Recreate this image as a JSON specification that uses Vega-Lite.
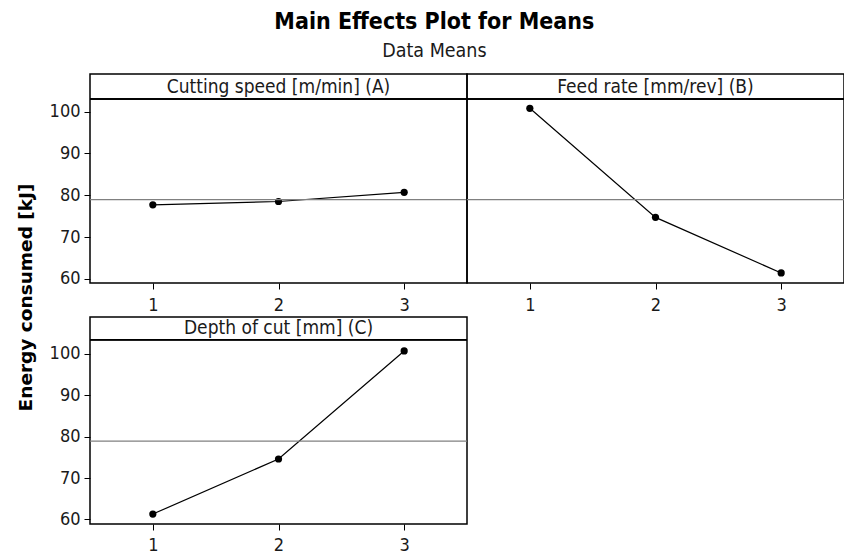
{
  "$schema": "https://vega.github.io/schema/vega-lite/v6.json",
  "padding": {"left": 15, "top": 10, "right": 0, "bottom": 0},
  "background": "white",
  "title": {
    "text": "Main Effects Plot for Means",
    "subtitle": "Data Means",
    "anchor": "middle",
    "dx": 4,
    "font": "DejaVu Sans Condensed",
    "fontSize": 23,
    "fontWeight": "bold",
    "color": "black",
    "subtitleFont": "DejaVu Sans Condensed",
    "subtitleFontSize": 19.5,
    "subtitleColor": "#1a1a1a",
    "subtitlePadding": 8,
    "offset": 13
  },
  "datasets": {
    "means": [
      {"factor": "Cutting speed [m/min] (A)", "level": 1, "energy": 77.7},
      {"factor": "Cutting speed [m/min] (A)", "level": 2, "energy": 78.5},
      {"factor": "Cutting speed [m/min] (A)", "level": 3, "energy": 80.7},
      {"factor": "Feed rate [mm/rev] (B)", "level": 1, "energy": 100.8},
      {"factor": "Feed rate [mm/rev] (B)", "level": 2, "energy": 74.7},
      {"factor": "Feed rate [mm/rev] (B)", "level": 3, "energy": 61.4},
      {"factor": "Depth of cut [mm] (C)", "level": 1, "energy": 61.3},
      {"factor": "Depth of cut [mm] (C)", "level": 2, "energy": 74.6},
      {"factor": "Depth of cut [mm] (C)", "level": 3, "energy": 100.7}
    ]
  },
  "columns": 2,
  "spacing": {"row": 34, "column": 0},
  "bounds": "flush",
  "concat": [
    {
      "width": 377, "height": 209,
      "data": {"name": "means"},
      "transform": [
        {"joinaggregate": [{"op": "mean", "field": "energy", "as": "grand"}]},
        {"filter": "datum.factor === 'Cutting speed [m/min] (A)'"}
      ],
      "layer": [
        {"mark": {"type": "line", "color": "black", "strokeWidth": 1.2, "point": {"filled": true, "color": "black", "size": 52, "opacity": 1}},
         "encoding": {
           "x": {"field": "level", "type": "quantitative", "scale": {"domain": [0.5, 3.5], "nice": false, "zero": false}, "axis": {"values": [1, 2, 3], "format": "d", "title": null, "labelPadding": 7}},
           "y": {"field": "energy", "type": "quantitative", "scale": {"domain": [59, 109], "nice": false, "zero": false},
                 "axis": {"values": [60, 70, 80, 90, 100], "title": "Energy consumed [kJ]", "titleX": -65, "titleY": 223, "titleAngle": -90, "titleAlign": "center", "titleBaseline": "middle", "titleFont": "DejaVu Sans", "titleFontSize": 18.5}}
         }},
        {"mark": {"type": "rule", "color": "#808080", "strokeWidth": 1.3},
         "encoding": {"y": {"field": "grand", "aggregate": "mean", "type": "quantitative", "title": "Energy consumed [kJ]"}}},
        {"mark": {"type": "rule", "color": "black", "strokeWidth": 1.5},
         "encoding": {"y": {"datum": 103, "type": "quantitative", "title": "Energy consumed [kJ]"}}},
        {"transform": [{"filter": "datum.level === 1"}],
         "mark": {"type": "text", "font": "DejaVu Sans Condensed", "fontSize": 19, "color": "#1a1a1a", "baseline": "middle", "align": "center"},
         "encoding": {"x": {"datum": 2, "type": "quantitative", "title": null}, "y": {"datum": 106, "type": "quantitative", "title": "Energy consumed [kJ]"}, "text": {"field": "factor"}}}
      ]
    },
    {
      "width": 377, "height": 209,
      "data": {"name": "means"},
      "transform": [
        {"joinaggregate": [{"op": "mean", "field": "energy", "as": "grand"}]},
        {"filter": "datum.factor === 'Feed rate [mm/rev] (B)'"}
      ],
      "layer": [
        {"mark": {"type": "line", "color": "black", "strokeWidth": 1.2, "point": {"filled": true, "color": "black", "size": 52, "opacity": 1}},
         "encoding": {
           "x": {"field": "level", "type": "quantitative", "scale": {"domain": [0.5, 3.5], "nice": false, "zero": false}, "axis": {"values": [1, 2, 3], "format": "d", "title": null, "labelPadding": 7}},
           "y": {"field": "energy", "type": "quantitative", "scale": {"domain": [59, 109], "nice": false, "zero": false}, "axis": null}
         }},
        {"mark": {"type": "rule", "color": "#808080", "strokeWidth": 1.3},
         "encoding": {"y": {"field": "grand", "aggregate": "mean", "type": "quantitative", "axis": null}}},
        {"mark": {"type": "rule", "color": "black", "strokeWidth": 1.5},
         "encoding": {"y": {"datum": 103, "type": "quantitative", "axis": null}}},
        {"transform": [{"filter": "datum.level === 1"}],
         "mark": {"type": "text", "font": "DejaVu Sans Condensed", "fontSize": 19, "color": "#1a1a1a", "baseline": "middle", "align": "center"},
         "encoding": {"x": {"datum": 2, "type": "quantitative", "title": null}, "y": {"datum": 106, "type": "quantitative", "axis": null}, "text": {"field": "factor"}}}
      ]
    },
    {
      "width": 377, "height": 207,
      "data": {"name": "means"},
      "transform": [
        {"joinaggregate": [{"op": "mean", "field": "energy", "as": "grand"}]},
        {"filter": "datum.factor === 'Depth of cut [mm] (C)'"}
      ],
      "layer": [
        {"mark": {"type": "line", "color": "black", "strokeWidth": 1.2, "point": {"filled": true, "color": "black", "size": 52, "opacity": 1}},
         "encoding": {
           "x": {"field": "level", "type": "quantitative", "scale": {"domain": [0.5, 3.5], "nice": false, "zero": false}, "axis": {"values": [1, 2, 3], "format": "d", "title": null, "labelPadding": 6}},
           "y": {"field": "energy", "type": "quantitative", "scale": {"domain": [58.9, 108.9], "nice": false, "zero": false}, "axis": {"values": [60, 70, 80, 90, 100], "title": null}}
         }},
        {"mark": {"type": "rule", "color": "#808080", "strokeWidth": 1.3},
         "encoding": {"y": {"field": "grand", "aggregate": "mean", "type": "quantitative", "title": null}}},
        {"mark": {"type": "rule", "color": "black", "strokeWidth": 1.5},
         "encoding": {"y": {"datum": 103.4, "type": "quantitative", "title": null}}},
        {"transform": [{"filter": "datum.level === 1"}],
         "mark": {"type": "text", "font": "DejaVu Sans Condensed", "fontSize": 19, "color": "#1a1a1a", "baseline": "middle", "align": "center"},
         "encoding": {"x": {"datum": 2, "type": "quantitative", "title": null}, "y": {"datum": 106.2, "type": "quantitative", "title": null}, "text": {"field": "factor"}}}
      ]
    }
  ],
  "config": {
    "view": {"stroke": "black", "strokeWidth": 1.5},
    "axis": {
      "labelFont": "DejaVu Sans Condensed",
      "labelFontSize": 18,
      "labelColor": "#1a1a1a",
      "tickColor": "black",
      "tickSize": 6,
      "tickWidth": 1,
      "domain": false,
      "grid": false,
      "labelPadding": 4,
      "titleFont": "DejaVu Sans Condensed",
      "titleFontSize": 17,
      "titleFontWeight": "bold",
      "titleColor": "black"
    }
  }
}
